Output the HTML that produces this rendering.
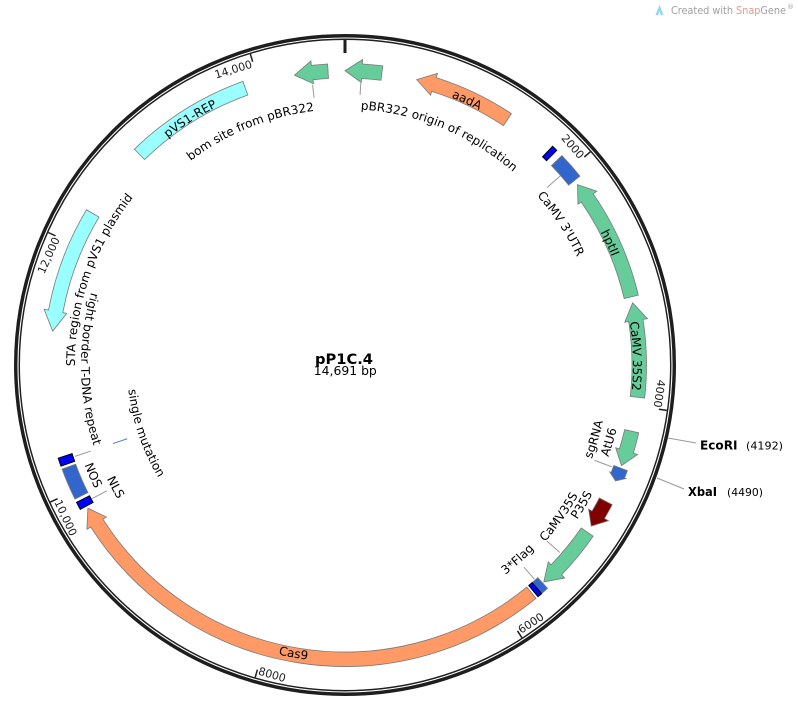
<!DOCTYPE html>
<html><head><meta charset="utf-8">
<style>
html,body{margin:0;padding:0;background:#fff;}
svg{display:block;}
text{font-family:"DejaVu Sans","Liberation Sans",sans-serif;}
</style></head><body>
<svg id="s" width="798" height="722" viewBox="0 0 798 722" xmlns="http://www.w3.org/2000/svg">
<defs>
<path id="cw256" d="M345,109 A256,256 0 1 1 345,621 A256,256 0 1 1 345,109"/>
<path id="cw270" d="M345,95 A270,270 0 1 1 345,635 A270,270 0 1 1 345,95"/>
<path id="cw288" d="M345,77 A288,288 0 1 1 345,653 A288,288 0 1 1 345,77"/>
<path id="ccw218" d="M345,147 A218,218 0 1 0 345,583 A218,218 0 1 0 345,147"/>
<path id="ccw264" d="M345,101 A264,264 0 1 0 345,629 A264,264 0 1 0 345,101"/>
<path id="ccw267" d="M345,98 A267,267 0 1 0 345,632 A267,267 0 1 0 345,98"/>
<path id="ccw279" d="M345,86 A279,279 0 1 0 345,644 A279,279 0 1 0 345,86"/>
<path id="ccw297" d="M345,68 A297,297 0 1 0 345,662 A297,297 0 1 0 345,68"/>
</defs>

<!-- watermark -->
<polygon points="655.5,15 659.5,5 663.5,15 660.8,15 659.5,11 658.2,15" fill="#8fd6ee"/>
<text x="671" y="14" font-size="10.5" style="fill:#a0a0a0" textLength="115" lengthAdjust="spacingAndGlyphs">Created with <tspan style="fill:#e8988a">Snap</tspan>Gene</text>
<text x="787" y="9" font-size="7" style="fill:#a0a0a0">®</text>

<!-- ring -->
<circle cx="345" cy="365" r="328" fill="none" stroke="#1e1e1e" stroke-width="6"/>
<circle cx="345" cy="365" r="327" fill="none" stroke="#fff" stroke-width="1.1"/>

<!-- ticks -->
<g stroke="#1e1e1e" stroke-width="1.5">
<line x1="345" y1="40" x2="345" y2="53" stroke-width="3"/>
<line x1="345" y1="40" x2="345" y2="48" transform="rotate(49.01 345 365)"/>
<line x1="345" y1="40" x2="345" y2="48" transform="rotate(98.02 345 365)"/>
<line x1="345" y1="40" x2="345" y2="48" transform="rotate(147.03 345 365)"/>
<line x1="345" y1="40" x2="345" y2="48" transform="rotate(196.04 345 365)"/>
<line x1="345" y1="40" x2="345" y2="48" transform="rotate(245.05 345 365)"/>
<line x1="345" y1="40" x2="345" y2="48" transform="rotate(294.06 345 365)"/>
<line x1="345" y1="40" x2="345" y2="48" transform="rotate(343.07 345 365)"/>
</g>
<g font-size="11" fill="#1e1e1e">
<text x="343.5" y="53.5" text-anchor="end" transform="rotate(49.01 345 365)">2000</text>
<text x="343.5" y="53.5" text-anchor="end" transform="rotate(98.02 345 365)">4000</text>
<text x="343.5" y="53.5" text-anchor="end" transform="rotate(294.06 345 365)">12,000</text>
<text x="343.5" y="53.5" text-anchor="end" transform="rotate(343.07 345 365)">14,000</text>
<text x="346.5" y="686.5" transform="rotate(-32.97 345 365)">6000</text>
<text x="346.5" y="686.5" transform="rotate(16.04 345 365)">8000</text>
<text x="346.5" y="686.5" transform="rotate(65.05 345 365)">10,000</text>
</g>

<!-- label lines -->
<g stroke="#999" stroke-width="1">
<line x1="345" y1="94.5" x2="345" y2="82.5" transform="rotate(3.2 345 365)"/>
<line x1="345" y1="96" x2="345" y2="83" transform="rotate(353.4 345 365)"/>
<line x1="345" y1="96" x2="345" y2="78" transform="rotate(48.7 345 365)"/>
<line x1="345" y1="98" x2="345" y2="79.4" transform="rotate(110.9 345 365)"/>
<line x1="345" y1="97" x2="345" y2="80" transform="rotate(131.1 345 365)"/>
<line x1="345" y1="95" x2="345" y2="79" transform="rotate(138.5 345 365)"/>
<line x1="345" y1="95.6" x2="345" y2="79" transform="rotate(242.15 345 365)"/>
<line x1="345" y1="96.6" x2="345" y2="80" transform="rotate(251.3 345 365)"/>
<line x1="668" y1="438" x2="696" y2="443"/>
<line x1="657" y1="478" x2="684" y2="489"/>
</g>
<line x1="345" y1="120" x2="345" y2="135" stroke="#4a7fd8" stroke-width="1" transform="rotate(251.3 345 365)"/>

<!-- features (drawn by script) -->
<g id="feat"></g>

<!-- feature labels -->
<g font-size="12" fill="#000">
<text text-anchor="middle"><textPath href="#cw256" startOffset="99.6">pBR322 origin of replication</textPath></text>
<text text-anchor="middle"><textPath href="#cw256" startOffset="1509.5">bom site from pBR322</textPath></text>
<text text-anchor="middle"><textPath href="#cw256" startOffset="253.8">CaMV 3'UTR</textPath></text>
<text text-anchor="middle"><textPath href="#cw288" startOffset="124.2">aadA</textPath></text>
<text text-anchor="middle"><textPath href="#cw288" startOffset="1647.2">pVS1-REP</textPath></text>
<text text-anchor="middle"><textPath href="#cw288" startOffset="327.7">hptII</textPath></text>
<text text-anchor="middle"><textPath href="#cw288" startOffset="443.3">CaMV 35S2</textPath></text>
<text text-anchor="middle"><textPath href="#cw270" startOffset="1361.9">STA region from pVS1 plasmid</textPath></text>
<text text-anchor="middle"><textPath href="#ccw264" startOffset="418.8">right border T-DNA repeat</textPath></text>
<text text-anchor="middle"><textPath href="#ccw264" startOffset="543.7">NLS</textPath></text>
<text text-anchor="middle"><textPath href="#ccw264" startOffset="1167.1">sgRNA</textPath></text>
<text text-anchor="middle"><textPath href="#ccw264" startOffset="1020.6">3*Flag</textPath></text>
<text text-anchor="middle"><textPath href="#ccw267" startOffset="1093.2">CaMV35S</textPath></text>
<text text-anchor="middle"><textPath href="#ccw279" startOffset="553.2">NOS</textPath></text>
<text text-anchor="middle"><textPath href="#ccw279" startOffset="1234.9">AtU6</textPath></text>
<text text-anchor="middle"><textPath href="#ccw279" startOffset="1165.3">P35S</textPath></text>
<text text-anchor="middle"><textPath href="#ccw218" startOffset="414.0">single mutation</textPath></text>
<text text-anchor="middle"><textPath href="#ccw297" startOffset="880.2">Cas9</textPath></text>
</g>

<!-- restriction sites -->
<text x="700" y="449.5" font-size="12" font-weight="bold" textLength="37.5" lengthAdjust="spacingAndGlyphs">EcoRI</text>
<text x="746" y="449.5" font-size="11" textLength="37" lengthAdjust="spacingAndGlyphs">(4192)</text>
<text x="688" y="496" font-size="12" font-weight="bold" textLength="29" lengthAdjust="spacingAndGlyphs">XbaI</text>
<text x="727" y="496" font-size="11" textLength="36" lengthAdjust="spacingAndGlyphs">(4490)</text>

<!-- center -->
<text x="344" y="364" font-size="14" font-weight="bold" text-anchor="middle" textLength="58" lengthAdjust="spacingAndGlyphs">pP1C.4</text>
<text x="345.3" y="375" font-size="12" text-anchor="middle" textLength="63" lengthAdjust="spacingAndGlyphs">14,691 bp</text>
</svg>
<script>
(function(){
var NS="http://www.w3.org/2000/svg";
var g=document.getElementById("feat");
var cx=345, cy=365;
function P(r,a){var t=a*Math.PI/180;return (cx+r*Math.sin(t)).toFixed(2)+","+(cy-r*Math.cos(t)).toFixed(2);}
function arc(r,a1,a2){var sweep=a2>a1?1:0;var large=Math.abs(a2-a1)>180?1:0;return " A"+r+","+r+" 0 "+large+","+sweep+" "+P(r,a2);}
function feat(a1,a2,dir,fill,opt){
  opt=opt||{};
  var ri=opt.ri||287, ro=opt.ro||301.5, hi=opt.hi||283, ho=opt.ho||306, h=opt.h||3.4, rm=(ri+ro)/2, d, b;
  if(dir===0){ d="M"+P(ro,a1)+arc(ro,a1,a2)+" L"+P(ri,a2)+arc(ri,a2,a1)+" Z"; }
  else if(dir===1){ b=a2-h; d="M"+P(ro,a1)+arc(ro,a1,b)+" L"+P(ho,b)+" L"+P(rm,a2)+" L"+P(hi,b)+" L"+P(ri,b)+arc(ri,b,a1)+" Z"; }
  else { b=a1+h; d="M"+P(rm,a1)+" L"+P(ho,b)+" L"+P(ro,b)+arc(ro,b,a2)+" L"+P(ri,a2)+arc(ri,a2,b)+" L"+P(hi,b)+" Z"; }
  var p=document.createElementNS(NS,"path");
  p.setAttribute("d",d);p.setAttribute("fill",fill);
  p.setAttribute("stroke",opt.s||"#7a7a7a");p.setAttribute("stroke-width",opt.sw||"0.8");
  g.appendChild(p);
}
var G="#66cc99",O="#ff9966",C="#99ffff",B="#3366cc",DB="#0000ff",R="#800000";
var K={s:"#000",sw:1};
feat(0,7.2,-1,G,{h:3.3});
feat(350.1,356.7,-1,G,{h:3.5});
feat(14.1,33.5,-1,O,{h:3.5});
feat(315.7,340.2,0,C);
feat(276.6,301,-1,C,{h:3.9});
feat(43.5,44.6,0,DB,K);
feat(46,51.2,0,B);
feat(52.2,76.6,-1,G,{h:3.2});
feat(77.8,96.3,-1,G,{h:3.5});
feat(103,110,1,G,{h:3});
feat(110.5,113.2,1,B,{h:1.2,hi:285.5,ho:303});
feat(117.6,123.2,1,R,{h:2.6});
feat(124.6,137.5,1,G,{h:3.4});
feat(137.8,139.3,0,B);
feat(139.3,140.2,0,DB,K);
feat(140.7,240.9,1,O,{h:3.4});
feat(241.4,242.9,0,DB,K);
feat(243.6,249.8,0,B);
feat(250.4,252,0,DB,K);
})();
</script>
</body></html>
